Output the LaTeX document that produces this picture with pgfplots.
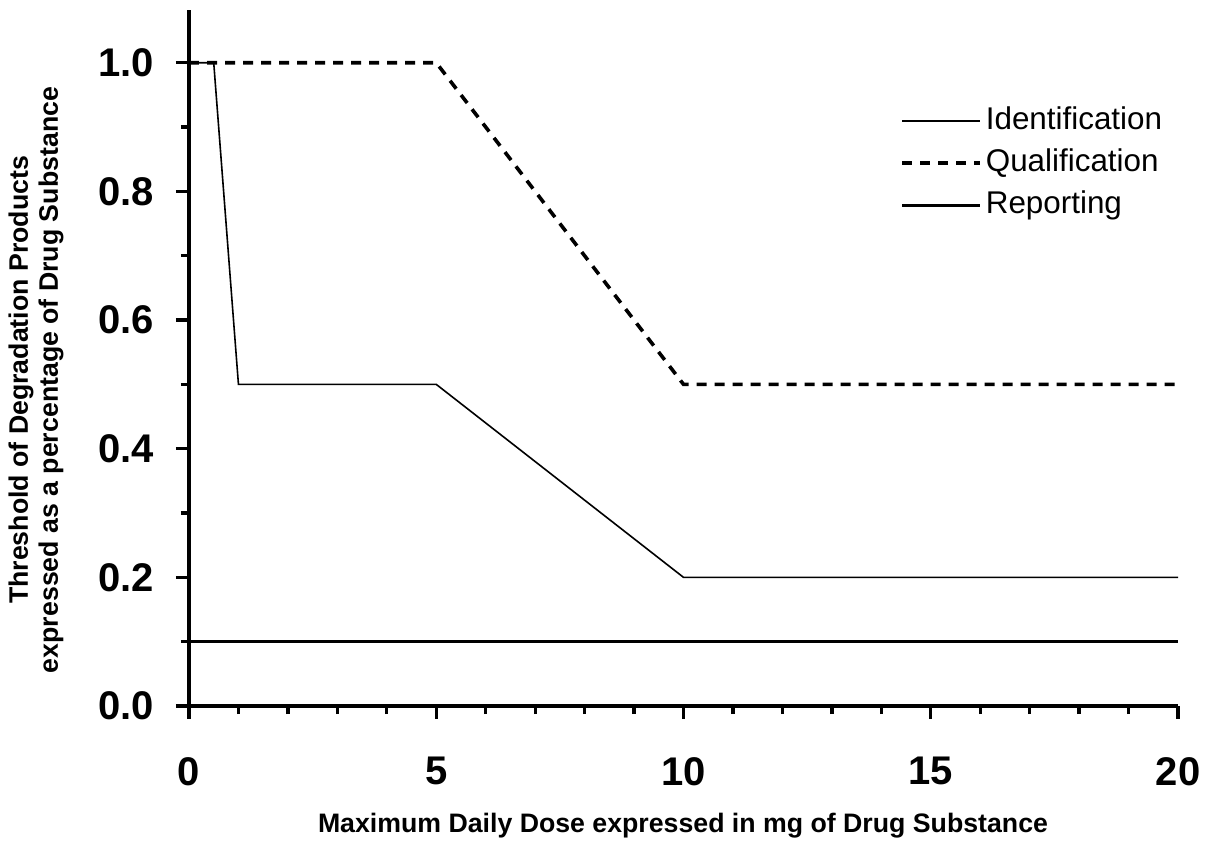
\documentclass[border=0pt]{standalone}
\usepackage{pgfplots}
\pgfplotsset{compat=1.18}
\usepackage{fontspec}
\setmainfont{Liberation Sans}
\begin{document}
\begin{tikzpicture}
\path[use as bounding box] (-189pt,-137pt) rectangle (1025pt,706pt);
\begin{axis}[
  at={(0pt,0pt)}, anchor=south west,
  scale only axis, width=989pt, height=696pt,
  xmin=0, xmax=20, ymin=0, ymax=1.082,
  axis x line=bottom, axis y line=left,
  axis line style={line width=3.3pt, -},
  xtick={0,5,10,15,20}, minor x tick num=4,
  ytick={0,0.2,0.4,0.6,0.8,1.0}, yticklabels={0.0,0.2,0.4,0.6,0.8,1.0}, minor y tick num=1,
  tick align=outside,
  major tick length=13pt, minor tick length=8pt,
  tick style={line width=3.3pt, black},
  tick label style={font=\bfseries\fontsize{40}{48}\selectfont, inner sep=0pt},
  /pgf/number format/assume math mode=true,
  xticklabel style={yshift=-38pt},
  yticklabel style={xshift=-22pt},
  clip=false,
  legend style={draw=none, fill=none, at={(rel axis cs:0.7159,0.8663)}, anchor=north west,
    font=\fontsize{31.4}{38}\selectfont,
    nodes={inner sep=0pt, text height=24pt, text depth=8pt},
    row sep=10pt, column sep=4pt},
  legend cell align=left,
  legend image code/.code={\draw[#1] (0pt,0pt) -- (78pt,0pt);},
]
\addplot[black, line width=1.6pt] coordinates {(0,1) (0.5,1) (1,0.5) (5,0.5) (10,0.2) (20,0.2)};
\addlegendentry{Identification}
\addplot[black, line width=3.6pt, dash pattern=on 10pt off 8pt] coordinates {(0,1) (5,1) (10,0.5) (20,0.5)};
\addlegendentry{Qualification}
\addplot[black, line width=3.3pt] coordinates {(0,0.1) (20,0.1)};
\addlegendentry{Reporting}
\end{axis}
\node[rotate=90, anchor=base, font=\bfseries\fontsize{26.7}{30}\selectfont] at (-161pt,326pt) {Threshold of Degradation Products};
\node[rotate=90, anchor=base, font=\bfseries\fontsize{26.7}{30}\selectfont] at (-131pt,326pt) {expressed as a percentage of Drug Substance};
\node[anchor=base, font=\bfseries\fontsize{26.7}{30}\selectfont] at (494pt,-126pt) {Maximum Daily Dose expressed in mg of Drug Substance};
\end{tikzpicture}
\end{document}
